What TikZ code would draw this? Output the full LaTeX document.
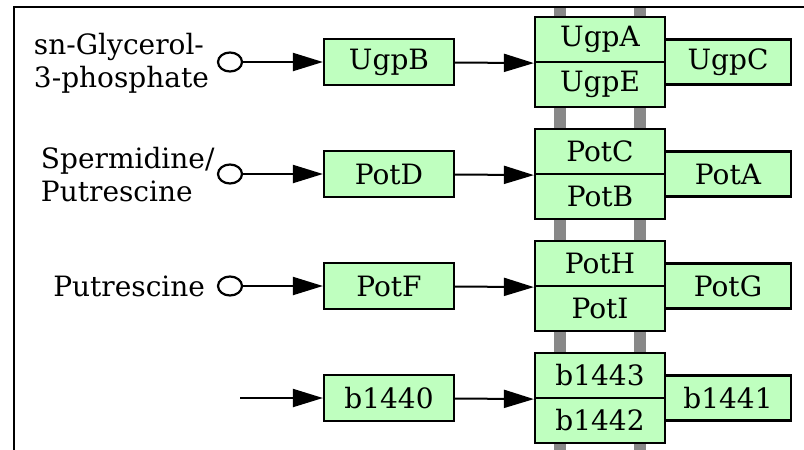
\documentclass[tikz,border=0pt]{standalone}
\usepackage{fontspec}
\setmainfont{DejaVu Serif}
\usepackage{tikz}
\usetikzlibrary{shapes, positioning, arrows.meta}

\definecolor{protgreen}{RGB}{191,255,191}
\definecolor{railgray}{RGB}{136,136,136}

\tikzset{
  prot/.style={draw, fill=protgreen, line width=2.2pt, inner sep=0pt, minimum width=130pt, minimum height=46pt},
  half/.style={prot, minimum height=45pt},
  side/.style={prot, minimum width=126pt, minimum height=45pt},
  cmpd/.style={draw, ellipse, fill=white, line width=2.2pt, minimum width=24pt, minimum height=19pt, inner sep=0pt},
  lbl/.style={inner sep=0pt, align=left}
}

\begin{document}
\begin{tikzpicture}[x=1pt, y=-1pt, >={Triangle[length=30pt,width=18pt]}, line width=2pt,
    every node/.style={font=\fontsize{28}{33}\selectfont}]
    \useasboundingbox (0,0) rectangle (804,450);
    % frame and membrane rails
    \draw[line width=2pt] (14,450) -- (14,7) -- (804,7);
    \fill[railgray] (554,8) rectangle (566,450);
    \fill[railgray] (634,8) rectangle (646,450);

    % sn-Glycerol-3-phosphate
    \node[lbl, anchor=west] (g3p) at (33, 63) {sn-Glycerol-\\3-phosphate};
    \node[cmpd] (c1) at (230, 62) {};
    \node[prot] (ugpB) at (389, 62) {UgpB};
    \node[half] (ugpA) at (600, 39.5) {UgpA};
    \node[half] (ugpE) at (600, 84.5) {UgpE};
    \node[side] (ugpC) at (728, 62) {UgpC};
    \draw[->] (c1) to (ugpB);
    \draw[->] (ugpB) to (ugpA.south west);

    % Spermidine/Putrescine
    \node[lbl, anchor=west] (spd) at (40, 175) {Spermidine/\\Putrescine};
    \node[cmpd] (c2) at (230, 174) {};
    \node[prot] (potD) at (389, 174) {PotD};
    \node[half] (potC) at (600, 151.5) {PotC};
    \node[half] (potB) at (600, 196.5) {PotB};
    \node[side] (potA) at (728, 174) {PotA};
    \draw[->] (c2) to (potD);
    \draw[->] (potD) to (potC.south west);

    % Putrescine
    \node[lbl, anchor=east] (put) at (206, 286) {Putrescine};
    \node[cmpd] (c3) at (230, 286) {};
    \node[prot] (potF) at (389, 286) {PotF};
    \node[half] (potH) at (600, 263.5) {PotH};
    \node[half] (potI) at (600, 308.5) {PotI};
    \node[side] (potG) at (728, 286) {PotG};
    \draw[->] (c3) to (potF);
    \draw[->] (potF) to (potH.south west);

    % b1440 system
    \coordinate (in4) at (240, 398);
    \node[prot] (b1440) at (389, 398) {b1440};
    \node[half] (b1443) at (600, 375.5) {b1443};
    \node[half] (b1442) at (600, 420.5) {b1442};
    \node[side] (b1441) at (728, 398) {b1441};
    \draw[->] (in4) to (b1440);
    \draw[->] (b1440) to (b1443.south west);
\end{tikzpicture}
\end{document}
